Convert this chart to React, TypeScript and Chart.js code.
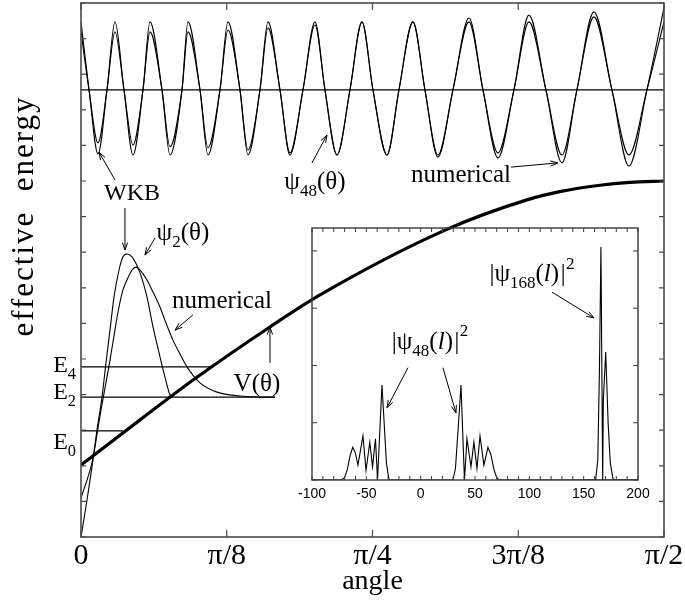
import React, { useEffect, useRef } from "react";
import { Chart, registerables } from "chart.js";

Chart.register(...registerables);

// ---------------- main panel: axes ----------------
const angleTickValues = [0, Math.PI / 8, Math.PI / 4, (3 * Math.PI) / 8, Math.PI / 2];
const angleTickLabels = ["0", "π/8", "π/4", "3π/8", "π/2"];
const energyTickValues = [0, 1, 2, 3, 4, 5, 6, 7, 8, 9, 10, 11, 12, 13, 14, 15];

// ---------------- psi_48(theta), drawn at its energy level ----------------
const psi48Level = 12.56;
const psi48Theta = [
  0, 0.0216, 0.0458, 0.07, 0.0916, 0.1158, 0.1401, 0.167, 0.1859, 0.2182, 0.2398, 0.2721,
  0.2883, 0.3206, 0.3421, 0.3745, 0.396, 0.4283, 0.4499, 0.4822, 0.5038, 0.5361, 0.563,
  0.5981, 0.6304, 0.6573, 0.6897, 0.7247, 0.757, 0.7866, 0.8244, 0.8567, 0.8944, 0.9267,
  0.9617, 1.0022, 1.0453, 1.083, 1.1234, 1.1665, 1.2069, 1.2527, 1.2958, 1.3362, 1.382,
  1.4305, 1.4763, 1.5248, 1.5708,
];
const psi48Wkb = [
  14.47, 12.56, 10.76, 12.56, 14.47, 12.56, 10.73, 12.56, 14.47, 12.56, 10.73, 12.56,
  14.47, 12.56, 10.73, 12.56, 14.47, 12.56, 10.73, 12.56, 14.47, 12.56, 10.73,
  12.56, 14.47, 12.56, 10.73, 12.56, 14.47, 12.56, 10.73, 12.56, 14.47, 12.56,
  10.73, 12.56, 14.47, 12.56, 10.79, 12.56, 14.47, 12.56, 10.73, 12.56, 14.61,
  12.56, 10.73, 12.56, 14.47,
];
const psi48Numerical = [
  14.19, 12.56, 11.07, 12.56, 14.19, 12.56, 11.01, 12.56, 14.19, 12.56, 10.96, 12.56,
  14.19, 12.56, 10.93, 12.56, 14.24, 12.56, 10.87, 12.56, 14.3, 12.56, 10.79,
  12.56, 14.38, 12.56, 10.73, 12.56, 14.47, 12.56, 10.73, 12.56, 14.47, 12.56,
  10.67, 12.56, 14.58, 12.56, 10.65, 12.56, 14.66, 12.56, 10.51, 12.56, 14.75,
  12.56, 10.42, 12.56, 14.86,
];

// ---------------- potential V(theta) ----------------
const potentialTheta = [0, 0.159, 0.302, 0.509, 0.644, 0.981, 1.2015, 1.29, 1.398, 1.479, 1.5708];
const potentialValue = [2.02, 3.29, 4.41, 5.9, 6.8, 8.62, 9.47, 9.7, 9.88, 9.96, 10.0];

// ---------------- energy levels ----------------
const levelNames = ["E4", "E2", "E0"];
const levelEnergy = [4.78, 3.93, 2.98];
const levelEndTheta = [0.356, 0.5226, 0.113];
const levelLabelEnergy = [4.86, 4.1, 2.7];

// ---------------- psi_2(theta), drawn at E2 ----------------
const psi2WkbTheta = [
  0, 0.0162, 0.0296, 0.0431, 0.0566, 0.0673, 0.0781, 0.0889, 0.1024, 0.1131, 0.1239,
  0.1374, 0.1589, 0.1778, 0.194, 0.2128, 0.2263, 0.2398, 0.2451,
];
const psi2WkbValue = [
  0.0, 1.04, 1.97, 3.01, 3.93, 4.89, 5.81, 6.74, 7.5, 7.87, 7.95, 7.87, 7.42, 6.74, 5.9,
  5.06, 4.49, 3.99, 3.93,
];
const psi2NumTheta = [
  0, 0.0081, 0.0162, 0.0296, 0.0377, 0.0458, 0.0539, 0.0647, 0.0781, 0.0889, 0.0997,
  0.1131, 0.1266, 0.1374, 0.1482, 0.1616, 0.1778, 0.194, 0.2128, 0.229, 0.2478, 0.2667,
  0.2856, 0.3206, 0.3664, 0.4283, 0.4822, 0.5226,
];
const psi2NumValue = [
  1.1, 1.35, 1.6, 2.08, 2.53, 3.06, 3.57, 4.19, 4.97, 5.65, 6.32, 6.94, 7.28, 7.5, 7.58,
  7.47, 7.22, 6.88, 6.46, 6.01, 5.53, 5.14, 4.78, 4.33, 4.07, 3.96, 3.93, 3.93,
];

// ---------------- inset: |psi(l)|^2 ----------------
const insetTickValues = [-100, -50, 0, 50, 100, 150, 200];
const insetProbTicks = [0, 1, 2, 3, 4];
const psi48L = [
  -100, -73, -70, -67.5, -65, -62.5, -60, -57.7, -53.1, -50.3, -46.8, -44.3, -41.6, -39.7,
  -35.6, -31.5, -29.1, 29.7, 32, 34.5, 37.1, 40.3, 42.6, 46.3, 49.0, 51.8, 54.6, 58.2,
  61.9, 64.5, 67.5, 70, 72, 200,
];
const psi48Prob = [
  0, 0, 0.04, 0.18, 0.42, 0.57, 0.47, 0.26, 0.77, 0.17, 0.66, 0.23, 0.72, 0, 1.66, 0.3, 0,
  0, 0.2, 0.9, 1.66, 0, 0.72, 0.23, 0.66, 0.2, 0.77, 0.26, 0.57, 0.45, 0.18, 0.04, 0, 0,
];
const psi168L = [150, 161, 163, 164.5, 165.9, 167.5, 168.1, 170.3, 172.5, 174.5, 177, 179, 200];
const psi168Prob = [0, 0, 0.35, 1.9, 4.07, 0, 1.4, 2.235, 1.0, 0.3, 0.02, 0, 0];

// ---------------- annotation layout (in data coordinates) ----------------
const SERIF = '"Liberation Serif", "Times New Roman", serif';
const SANS = '"Liberation Sans", Arial, sans-serif';

type Part = { t: string; s?: number; dy?: number; it?: boolean };
const SUB = (t: string): Part => ({ t, s: 0.68, dy: 0.28 });
const SUP = (t: string): Part => ({ t, s: 0.68, dy: -0.5 });

const mainTexts: { parts: Part[]; x: number; y: number; size: number }[] = [
  { parts: [{ t: "WKB" }], x: 0.1374, y: 9.69, size: 24 },
  { parts: [{ t: "ψ" }, SUB("48"), { t: "(θ)" }], x: 0.6304, y: 10.0, size: 25 },
  { parts: [{ t: "numerical" }], x: 1.0237, y: 10.2, size: 25 },
  { parts: [{ t: "ψ" }, SUB("2"), { t: "(θ)" }], x: 0.2748, y: 8.57, size: 25 },
  { parts: [{ t: "numerical" }], x: 0.3799, y: 6.66, size: 25 },
  { parts: [{ t: "V(θ)" }], x: 0.4741, y: 4.33, size: 25 },
];
const mainArrows = [
  [0.0916, 10.03, 0.0485, 10.81],
  [0.1185, 9.24, 0.1185, 8.06],
  [0.6223, 10.51, 0.6627, 11.29],
  [1.1584, 10.39, 1.285, 10.51],
  [0.1994, 8.4, 0.1724, 7.92],
  [0.3017, 6.24, 0.2532, 5.81],
  [0.5092, 4.89, 0.5092, 5.9],
];
const insetTexts: { parts: Part[]; x: number; y: number; size: number }[] = [
  {
    parts: [{ t: "|ψ" }, SUB("48"), { t: "(" }, { t: "l", it: true }, { t: ")" }, { t: "|", it: true }, SUP("2")],
    x: 8.6,
    y: 2.44,
    size: 25,
  },
  {
    parts: [{ t: "|ψ" }, SUB("168"), { t: "(" }, { t: "l", it: true }, { t: ")" }, { t: "|", it: true }, SUP("2")],
    x: 102.4,
    y: 3.61,
    size: 25,
  },
];
const insetArrows = [
  [-11.7, 1.96, -31.0, 1.26],
  [20.5, 1.96, 32.5, 1.17],
  [120.9, 3.28, 159.5, 2.83],
];

function zip(xs: number[], ys: number[]) {
  return xs.map((x, i) => ({ x, y: ys[i] }));
}

function drawRich(ctx: CanvasRenderingContext2D, parts: Part[], cx: number, cy: number, size: number, align = "center") {
  const m = parts.map((p) => {
    const fs = size * (p.s ?? 1);
    const font = `${p.it ? "italic " : ""}${fs}px ${SERIF}`;
    ctx.font = font;
    return { p, font, w: ctx.measureText(p.t).width };
  });
  const total = m.reduce((a, b) => a + b.w, 0);
  let x = align === "center" ? cx - total / 2 : align === "right" ? cx - total : cx;
  const base = cy + size * 0.33;
  ctx.textAlign = "left";
  ctx.textBaseline = "alphabetic";
  for (const it of m) {
    ctx.font = it.font;
    ctx.fillText(it.p.t, x, base + (it.p.dy ?? 0) * size);
    x += it.w;
  }
}

function drawArrow(ctx: CanvasRenderingContext2D, x1: number, y1: number, x2: number, y2: number) {
  const a = Math.atan2(y2 - y1, x2 - x1);
  const L = 8;
  const sp = 0.33;
  ctx.beginPath();
  ctx.moveTo(x1, y1);
  ctx.lineTo(x2, y2);
  ctx.moveTo(x2 - L * Math.cos(a - sp), y2 - L * Math.sin(a - sp));
  ctx.lineTo(x2, y2);
  ctx.lineTo(x2 - L * Math.cos(a + sp), y2 - L * Math.sin(a + sp));
  ctx.stroke();
}

const thin = (data: { x: number; y: number }[], smooth = true) => ({
  data,
  borderColor: "#000",
  borderWidth: 1.1,
  pointRadius: 0,
  fill: false,
  tension: smooth ? 0.4 : 0,
  cubicInterpolationMode: smooth ? ("monotone" as const) : ("default" as const),
});

const mainDecor = {
  id: "mainDecor",
  afterDatasetsDraw(chart: any) {
    const { ctx, chartArea: ca, scales } = chart;
    const xs = scales.x;
    const ys = scales.y;
    ctx.save();
    ctx.strokeStyle = "#4a4a4a";
    ctx.lineWidth = 1.6;
    ctx.strokeRect(ca.left, ca.top, ca.right - ca.left, ca.bottom - ca.top);
    ctx.lineWidth = 1.2;
    ctx.beginPath();
    for (const v of angleTickValues) {
      const px = xs.getPixelForValue(v);
      ctx.moveTo(px, ca.bottom);
      ctx.lineTo(px, ca.bottom - 7);
      ctx.moveTo(px, ca.top);
      ctx.lineTo(px, ca.top + 7);
    }
    for (const v of energyTickValues) {
      const py = ys.getPixelForValue(v);
      ctx.moveTo(ca.left, py);
      ctx.lineTo(ca.left + 5, py);
      ctx.moveTo(ca.right, py);
      ctx.lineTo(ca.right - 5, py);
    }
    ctx.stroke();

    ctx.fillStyle = "#000";
    ctx.textAlign = "center";
    ctx.textBaseline = "alphabetic";
    ctx.font = `30px ${SERIF}`;
    angleTickValues.forEach((v, i) => {
      ctx.fillText(angleTickLabels[i], xs.getPixelForValue(v), 564);
    });
    ctx.font = `28px ${SERIF}`;
    ctx.fillText("angle", xs.getPixelForValue(Math.PI / 4), 589);

    ctx.save();
    ctx.translate(33, 216);
    ctx.rotate(-Math.PI / 2);
    ctx.font = `31px ${SERIF}`;
    (ctx as any).letterSpacing = "2px";
    ctx.fillText("effective  energy", 0, 0);
    ctx.restore();

    levelNames.forEach((name, i) => {
      drawRich(ctx, [{ t: name[0] }, SUB(name.slice(1))], ca.left - 5, ys.getPixelForValue(levelLabelEnergy[i]), 24, "right");
    });

    for (const t of mainTexts) {
      drawRich(ctx, t.parts, xs.getPixelForValue(t.x), ys.getPixelForValue(t.y), t.size);
    }
    ctx.strokeStyle = "#000";
    ctx.lineWidth = 1;
    for (const a of mainArrows) {
      drawArrow(ctx, xs.getPixelForValue(a[0]), ys.getPixelForValue(a[1]), xs.getPixelForValue(a[2]), ys.getPixelForValue(a[3]));
    }
    ctx.restore();
  },
};

const insetDecor = {
  id: "insetDecor",
  afterDatasetsDraw(chart: any) {
    const { ctx, chartArea: ca, scales } = chart;
    const xs = scales.x;
    const ys = scales.y;
    ctx.save();
    ctx.strokeStyle = "#3a3a3a";
    ctx.lineWidth = 1.4;
    ctx.strokeRect(ca.left, ca.top, ca.right - ca.left, ca.bottom - ca.top);
    ctx.lineWidth = 1;
    ctx.beginPath();
    for (let v = -100; v <= 200; v += 10) {
      const px = xs.getPixelForValue(v);
      ctx.moveTo(px, ca.bottom);
      ctx.lineTo(px, ca.bottom - 4);
      ctx.moveTo(px, ca.top);
      ctx.lineTo(px, ca.top + 4);
    }
    for (const v of insetProbTicks) {
      const py = ys.getPixelForValue(v);
      ctx.moveTo(ca.left, py);
      ctx.lineTo(ca.left + 5, py);
      ctx.moveTo(ca.right, py);
      ctx.lineTo(ca.right - 5, py);
    }
    ctx.stroke();
    ctx.fillStyle = "#000";
    ctx.font = `14px ${SANS}`;
    ctx.textAlign = "center";
    ctx.textBaseline = "middle";
    for (const v of insetTickValues) {
      ctx.fillText(String(v), xs.getPixelForValue(v), ca.bottom + 14);
    }
    for (const t of insetTexts) {
      drawRich(ctx, t.parts, xs.getPixelForValue(t.x), ys.getPixelForValue(t.y), t.size);
    }
    ctx.strokeStyle = "#000";
    ctx.lineWidth = 1;
    for (const a of insetArrows) {
      drawArrow(ctx, xs.getPixelForValue(a[0]), ys.getPixelForValue(a[1]), xs.getPixelForValue(a[2]), ys.getPixelForValue(a[3]));
    }
    ctx.restore();
  },
};

export default function App() {
  const mainRef = useRef<HTMLCanvasElement>(null);
  const insetRef = useRef<HTMLCanvasElement>(null);

  useEffect(() => {
    const levelDatasets = levelEnergy.map((e, i) =>
      thin([
        { x: 0, y: e },
        { x: levelEndTheta[i], y: e },
      ], false)
    );
    const main = new Chart(mainRef.current!, {
      type: "line",
      data: {
        datasets: [
          thin(zip(psi48Theta, psi48Wkb)),
          thin(zip(psi48Theta, psi48Numerical)),
          thin([
            { x: 0, y: psi48Level },
            { x: Math.PI / 2, y: psi48Level },
          ], false),
          ...levelDatasets,
          thin(zip(psi2WkbTheta, psi2WkbValue)),
          thin(zip(psi2NumTheta, psi2NumValue)),
          { ...thin(zip(potentialTheta, potentialValue)), borderWidth: 3.2 },
        ] as any,
      },
      options: {
        animation: false,
        responsive: false,
        devicePixelRatio: 1,
        layout: { padding: { left: 81, right: 21, top: 3, bottom: 79 } },
        scales: {
          x: { type: "linear", min: 0, max: Math.PI / 2, display: false },
          y: { type: "linear", min: 0, max: 15, display: false },
        },
        plugins: { legend: { display: false }, tooltip: { enabled: false } },
      },
      plugins: [mainDecor],
    });

    const inset = new Chart(insetRef.current!, {
      type: "line",
      data: {
        datasets: [thin(zip(psi48L, psi48Prob), false), thin(zip(psi168L, psi168Prob), false)] as any,
      },
      options: {
        animation: false,
        responsive: false,
        devicePixelRatio: 1,
        layout: { padding: { left: 312, right: 47, top: 228, bottom: 136 } },
        scales: {
          x: { type: "linear", min: -100, max: 200, display: false },
          y: { type: "linear", min: 0, max: 4.4, display: false },
        },
        plugins: { legend: { display: false }, tooltip: { enabled: false } },
      },
      plugins: [insetDecor],
    });

    return () => {
      main.destroy();
      inset.destroy();
    };
  }, []);

  return (
    <div style={{ position: "absolute", left: 0, top: 0, width: 685, height: 616, background: "#fff" }}>
      <canvas ref={mainRef} width={685} height={616} style={{ position: "absolute", left: 0, top: 0 }} />
      <canvas ref={insetRef} width={685} height={616} style={{ position: "absolute", left: 0, top: 0 }} />
    </div>
  );
}
